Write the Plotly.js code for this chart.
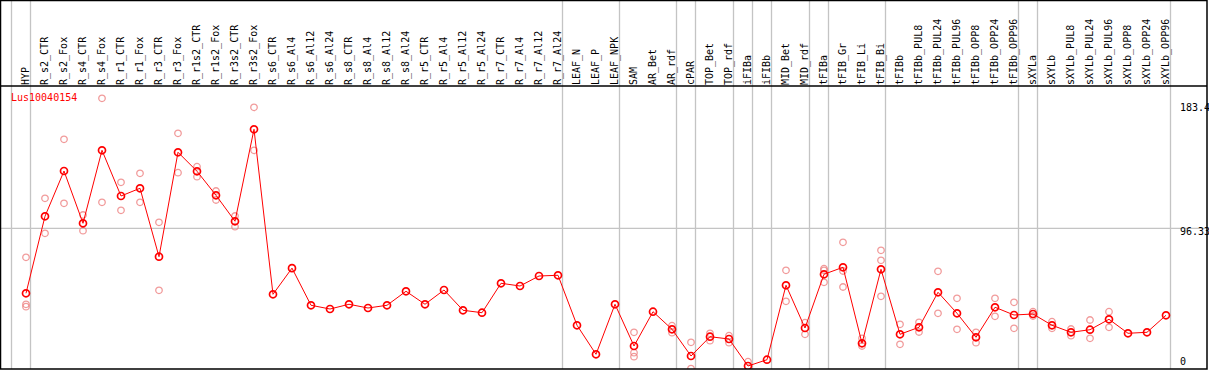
<!DOCTYPE html>
<html><head><meta charset="utf-8">
<script src="https://cdn.plot.ly/plotly-3.0.1.min.js"></script>
<style>html,body{margin:0;padding:0;background:#fff}#chart{width:1209px;height:370px}</style>
</head><body><div id="chart"></div>
<script>
const categories = ['HYP','R_s2_CTR','R_s2_Fox','R_s4_CTR','R_s4_Fox','R_r1_CTR','R_r1_Fox','R_r3_CTR','R_r3_Fox','R_r1s2_CTR','R_r1s2_Fox','R_r3s2_CTR','R_r3s2_Fox','R_s6_CTR','R_s6_Al4','R_s6_Al12','R_s6_Al24','R_s8_CTR','R_s8_Al4','R_s8_Al12','R_s8_Al24','R_r5_CTR','R_r5_Al4','R_r5_Al12','R_r5_Al24','R_r7_CTR','R_r7_Al4','R_r7_Al12','R_r7_Al24','LEAF_N','LEAF_P','LEAF_NPK','SAM','AR_Bet','AR_rdf','cPAR','TOP_Bet','TOP_rdf','iFIBa','iFIBb','MID_Bet','MID_rdf','tFIBa','tFIB_Gr','tFIB_Li','tFIB_Bi','tFIBb','tFIBb_PUL8','tFIBb_PUL24','tFIBb_PUL96','tFIBb_OPP8','tFIBb_OPP24','tFIBb_OPP96','sXYLa','sXYLb','sXYLb_PUL8','sXYLb_PUL24','sXYLb_PUL96','sXYLb_OPP8','sXYLb_OPP24','sXYLb_OPP96'];

const meanExpression = [50.9,104.8,136.5,99.9,151.0,119.0,124.4,76.5,149.6,136.3,119.5,101.3,165.7,50.2,68.5,42.5,39.9,43.2,40.6,42.5,52.3,43.2,53.2,39.0,37.3,57.9,56.0,63.0,63.5,28.5,8.2,43.2,14.0,38.0,25.7,7.0,20.5,18.9,0.0,4.4,56.5,26.6,64.2,69.1,15.9,67.7,22.2,27.1,51.6,36.9,20.1,41.1,35.7,36.4,28.5,23.6,25.4,32.7,22.9,23.6,35.5];

const replicate1 = [76.1,117.4,158.7,105.7,187.4,128.6,134.9,100.6,162.9,139.5,122.5,105.0,181.1,null,null,null,null,null,null,null,null,null,null,null,null,null,null,null,null,null,null,null,23.6,null,28.2,16.6,22.9,21.2,3.0,null,67.0,30.3,68.1,86.6,19.4,81.0,29.2,30.6,66.3,47.4,23.6,47.4,44.6,38.0,31.0,25.9,32.2,38.0,null,null,null];
const replicate2 = [43.2,92.9,113.9,94.7,114.6,109.0,114.6,53.0,135.3,132.5,116.2,97.5,151.0,null,null,null,null,null,null,null,null,null,null,null,null,null,null,null,null,null,null,null,9.3,null,23.3,-1.8,17.7,16.3,null,null,45.3,22.2,58.6,66.5,14.0,74.0,15.2,23.8,36.9,25.7,16.3,34.8,26.4,35.0,26.4,21.2,19.4,27.1,null,null,null];
const replicate3 = [41.5,null,null,null,null,null,null,null,null,null,null,null,null,null,null,null,null,null,null,null,null,null,null,null,null,null,null,null,null,null,null,null,6.5,null,null,null,null,null,null,null,null,null,67.0,55.3,null,48.8,null,null,null,null,null,null,null,null,null,null,null,null,null,null,null];

const yTickValues = [0, 96.33, 183.4];
const yTickLabels = ['0', '96.33', '183.4'];
const geneName = 'Lus10040154';
const groupEnds = ['', 'HYP','R_r7_Al24','LEAF_NPK','AR_rdf','cPAR','TOP_rdf','iFIBa','iFIBb','MID_rdf','tFIBa','tFIB_Bi','tFIBb_OPP96','sXYLa','sXYLb_OPP96'];

const idx = categories.map((c, i) => i);
const repX = [], repY = [];
[replicate1, replicate2, replicate3].forEach(r => r.forEach((v, i) => { if (v !== null) { repX.push(i); repY.push(v); } }));

const mono = 'DejaVu Sans Mono, monospace';
const yTop = 1 + 85.5 / 283;

const shapes = [];
groupEnds.forEach(name => {
  const i = name === '' ? -1 : categories.indexOf(name);
  shapes.push({type:'line', xref:'x', yref:'paper', x0:i+0.237, x1:i+0.237, y0:0, y1:yTop, line:{color:'#c4c4c4', width:1.3}, layer:'below'});
});
shapes.push({type:'line', xref:'paper', yref:'y', x0:0, x1:1, y0:yTickValues[1], y1:yTickValues[1], line:{color:'#c4c4c4', width:1.3}, layer:'below'});
shapes.push({type:'rect', xref:'paper', yref:'paper', x0:-0.5/1206, x1:1, y0:0, y1:yTop, line:{color:'#000', width:1.5}});
shapes.push({type:'line', xref:'paper', yref:'paper', x0:-0.5/1206, x1:1, y0:1, y1:1, line:{color:'#000', width:1.5}});

const annotations = yTickValues.map((v, k) => ({
  xref:'paper', yref:'y', x:(1178-1)/1206, y:v, xanchor:'left', yanchor:'middle',
  yshift: k === 0 ? 4.3 : -3.6, showarrow:false, text:yTickLabels[k],
  font:{family:mono, size:10, color:'#000'}
}));
annotations.push({xref:'paper', yref:'paper', x:(9-1)/1206, y:1-(97.3-86)/283, xanchor:'left', yanchor:'middle',
  showarrow:false, text:geneName, font:{family:mono, size:10, color:'#ff0000'}});

const traces = [
  {x:repX, y:repY, type:'scatter', mode:'markers', hoverinfo:'skip',
   marker:{symbol:'circle-open', size:6.5, color:'rgba(236,120,120,0.75)', line:{width:1.3}}},
  {x:idx, y:meanExpression, type:'scatter', mode:'lines+markers',
   line:{color:'#ff0000', width:1},
   marker:{symbol:'circle-open', size:7, color:'#ff0000', line:{width:1.7}}}
];

const layout = {
  width:1209, height:370, margin:{l:1, r:2, t:86, b:1, pad:0},
  paper_bgcolor:'#fff', plot_bgcolor:'#fff', showlegend:false,
  xaxis:{range:[-25/19, 1181/19], side:'top', tickmode:'array', tickvals:idx, ticktext:categories,
         tickangle:-90, ticks:'', showgrid:false, zeroline:false, showline:false,
         tickfont:{family:mono, size:10, color:'#000'}},
  yaxis:{range:[(366-369)/1.4286, (366-86)/1.4286], showgrid:false, zeroline:false, showticklabels:false, showline:false},
  shapes, annotations
};

Plotly.newPlot('chart', traces, layout, {staticPlot:true, displayModeBar:false});
</script></body></html>
